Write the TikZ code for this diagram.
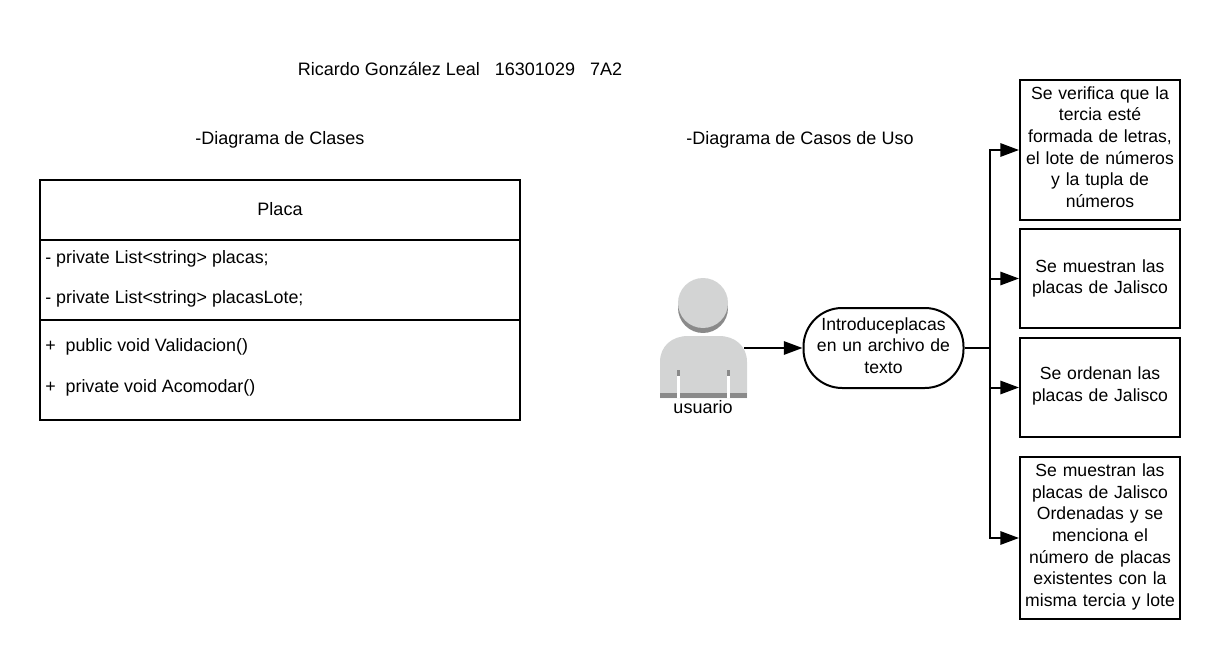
\documentclass[tikz,border=0pt]{standalone}
\usepackage{fontspec}
\setmainfont{Liberation Sans}
\usetikzlibrary{arrows.meta,positioning}
\definecolor{actorclaro}{HTML}{D3D4D4}
\definecolor{actoroscuro}{HTML}{8A8A8A}
\tikzstyle{arrow}=[draw,-{Triangle[length=14pt,width=10pt]},line width=1.5pt]
\tikzstyle{linea}=[draw,line width=1.5pt]
\tikzstyle{caja}=[draw,line width=1.5pt,fill=white,minimum width=120pt,text width=118pt,inner sep=0pt,align=center,font=\fontsize{13.2}{16.25}\selectfont]
\tikzstyle{texto}=[inner sep=0pt,font=\fontsize{13.5}{16.25}\selectfont]
\tikzstyle{miembro}=[texto,anchor=west,font=\fontsize{13.4}{16.25}\selectfont]

\begin{document}
\begin{tikzpicture}[x=0.75pt,y=-0.75pt]
\useasboundingbox (0,0) rectangle (1220,659);

\node [texto] (autor) at (460,69) {Ricardo González Leal\ \ \ 16301029\ \ \ 7A2};
\node [texto] (tclases) at (280,139.5) {-Diagrama de Clases};
\node [texto] (tcasos) at (800,139.5) {-Diagrama de Casos de Uso};

% clase
\node [linea,minimum width=360pt,minimum height=180pt,inner sep=0pt] (clase) at (280,300) {};
\coordinate (lin1a) at (40,240);
\coordinate (lin1b) at (520,240);
\coordinate (lin2a) at (40,320);
\coordinate (lin2b) at (520,320);
\draw [linea] (lin1a) -- (lin1b);
\draw [linea,line width=2.2pt] (lin2a) -- (lin2b);
\node [texto] (placa) at (280,209) {Placa};
\node [miembro] (attr1) at (45,259) {- private List<string> placas;};
\node [miembro] (attr2) at (45,299) {- private List<string> placasLote;};
\node [miembro] (met1) at (45,347) {+\ \ public void Validacion()};
\node [miembro] (met2) at (45,388) {+\ \ private void Acomodar()};

% usuario
\fill [actoroscuro] (703,308) circle [radius=25];
\fill [actorclaro] (703,303) circle [radius=25];
\fill [actorclaro] (660,398) -- (660,362) .. controls (660,346) and (672,336) .. (688,336)
  -- (719,336) .. controls (735,336) and (747,346) .. (747,362) -- (747,398) -- cycle;
\fill [actoroscuro] (660,393) rectangle (747,398);
\fill [actoroscuro] (677,370) rectangle (680,376);
\fill [actoroscuro] (727,370) rectangle (730,376);
\fill [white] (677,376) rectangle (680,398);
\fill [white] (727,376) rectangle (730,398);
\node [texto] (usuario) at (703,407) {usuario};
\coordinate (actor) at (744,348);

% caso de uso
\node [caja,rounded corners=29pt,minimum height=60pt] (caso) at (883.5,348) {Introduceplacas\\en un archivo de\\texto\\[-12.5pt]\mbox{}};

\node [caja,minimum height=105pt] (res1) at (1100,150) {Se verifica que la\\tercia esté\\formada de letras,\\el lote de números\\y la tupla de\\números\\[-11.75pt]\mbox{}};
\node [caja,minimum height=74pt] (res2) at (1100,278.5) {Se muestran las\\placas de Jalisco};
\node [caja,minimum height=74pt] (res3) at (1100,387.5) {Se ordenan las\\placas de Jalisco\\[-11.25pt]\mbox{}};
\node [caja,minimum height=122pt] (res4) at (1100,538) {Se muestran las\\placas de Jalisco\\Ordenadas y se\\menciona el\\número de placas\\existentes con la\\misma tercia y lote\\[-11.75pt]\mbox{}};

\coordinate (tronco) at (990,348);
\draw [arrow] (actor) -- (caso);
\draw [linea] (caso) -- (tronco);
\draw [arrow] (tronco) |- (res1);
\draw [arrow] (tronco) |- (res2);
\draw [arrow] (tronco) |- (res3);
\draw [arrow] (tronco) |- (res4);
\end{tikzpicture}
\end{document}
